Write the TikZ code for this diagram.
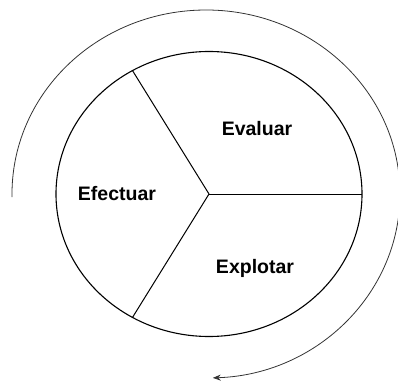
\documentclass[tikz,border=0pt]{standalone}
\usepackage{fontspec}
\setmainfont{Liberation Sans}
\usetikzlibrary{arrows.meta}
\tikzset{
  rueda/.style={draw=black,line width=1.1pt},
  radio/.style={draw=black,line width=1pt},
  ciclo/.style={draw=black!80,line width=0.8pt,-{Stealth[length=8pt,width=6pt]}},
  fase/.style={font=\fontsize{19.5}{22}\selectfont\bfseries,inner sep=0pt}
}
\begin{document}
\begin{tikzpicture}[x=1pt,y=1pt]
\useasboundingbox (0,0) rectangle (398,381);
\coordinate (centro) at (209,187);
\coordinate (eje) at (206,187);
\draw[rueda] (centro) ellipse [x radius=153,y radius=142.5];
\path (centro) ++(120:153 and 142.5) coordinate (arriba);
\path (centro) ++(240:153 and 142.5) coordinate (abajo);
\path (centro) ++(0:153 and 142.5) coordinate (derecha);
\draw[radio] (centro) -- (arriba);
\draw[radio] (centro) -- (abajo);
\draw[radio] (centro) -- (derecha);
% ciclo exterior
\path (eje) ++(181:194 and 184) coordinate (inicio);
\draw[ciclo] (inicio) arc[start angle=181,end angle=-88,x radius=194,y radius=184];
\node[fase] (evaluar) at (257,252) {Evaluar};
\node[fase] (efectuar) at (117,187) {Efectuar};
\node[fase] (explotar) at (255,113) {Explotar};
\end{tikzpicture}
\end{document}
